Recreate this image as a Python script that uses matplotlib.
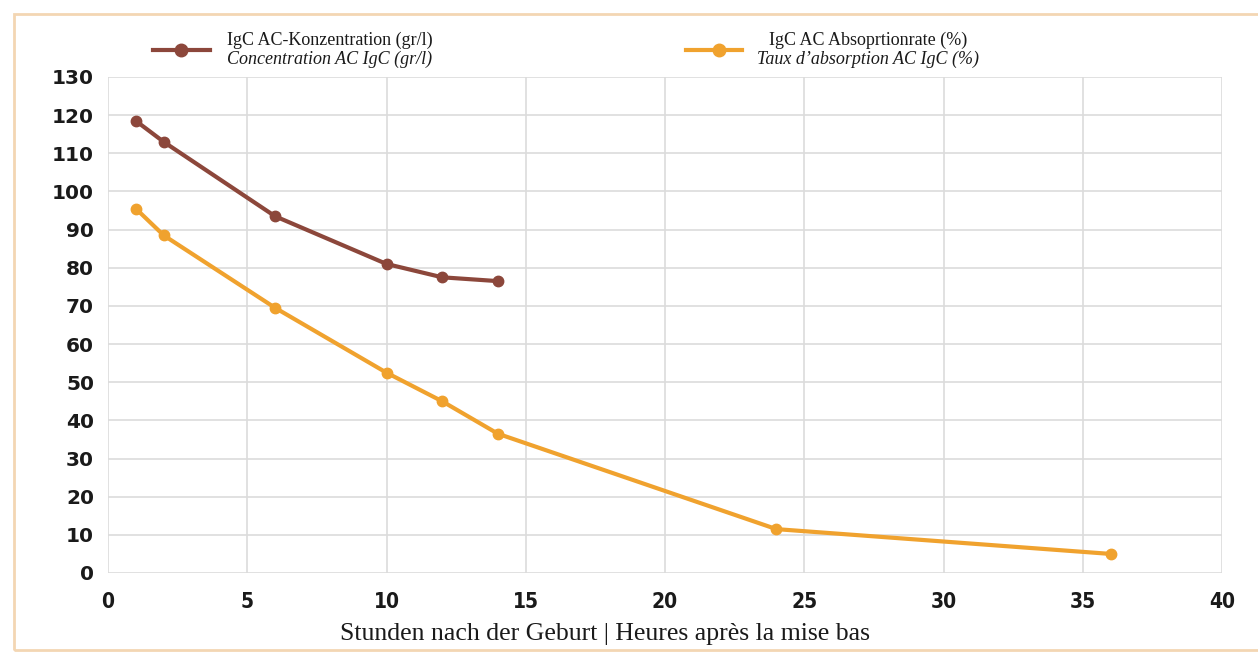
import matplotlib.pyplot as plt
from matplotlib.lines import Line2D
from matplotlib.patches import Rectangle

# hours after birth
hours_conc = [1, 2, 6, 10, 12, 14]
conc = [118.5, 113, 93.5, 81, 77.5, 76.5]

hours_abs = [1, 2, 6, 10, 12, 14, 24, 36]
absorption = [95.5, 88.5, 69.5, 52.5, 45, 36.5, 11.5, 5]

x_ticks = [0, 5, 10, 15, 20, 25, 30, 35, 40]
y_ticks = list(range(0, 140, 10))

BROWN = "#8c473b"
ORANGE = "#f0a22e"
GRID = "#dcdcdc"

fig = plt.figure(figsize=(12.58, 6.57), dpi=100)
ax = fig.add_axes([108 / 1258, 84 / 657, 1114 / 1258, 496 / 657])

ax.plot(hours_conc, conc, color=BROWN, lw=3, marker="o", markersize=7.5, zorder=3)
ax.plot(hours_abs, absorption, color=ORANGE, lw=3, marker="o", markersize=7.5, zorder=3)

ax.set_xlim(0, 40)
ax.set_ylim(0, 130)
ax.set_xticks(x_ticks)
ax.set_yticks(y_ticks)
ax.grid(True, color=GRID, lw=1.2)
ax.set_axisbelow(True)
for s in ax.spines.values():
    s.set_visible(False)
ax.tick_params(length=0)
ax.tick_params(axis="y", pad=10)
ax.tick_params(axis="x", pad=14)
for lab in ax.get_yticklabels():
    lab.set_fontweight("heavy")
    lab.set_fontsize(14.5)
    lab.set_color("#1a1a1a")
for lab in ax.get_xticklabels():
    lab.set_fontstretch("condensed")
    lab.set_fontweight("bold")
    lab.set_fontsize(15)
    lab.set_color("#1a1a1a")

fig.text(605 / 1258, 1 - 634 / 657, "Stunden nach der Geburt | Heures après la mise bas",
         ha="center", va="center", family="Liberation Serif", fontsize=18.5, color="#1a1a1a")

# legend drawn by hand (two-line labels, second line italic)
for x0, x1, xm, col, l1, l2, xc in [
    (153, 210, 181, BROWN, "IgC AC-Konzentration (gr/l)", "Concentration AC IgC (gr/l)", 330),
    (686, 742, 719, ORANGE, "IgC AC Absoprtionrate (%)", "Taux d\u2019absorption AC IgC (%)", 868),
]:
    fig.add_artist(Line2D([x0 / 1258, x1 / 1258], [1 - 50 / 657] * 2, color=col, lw=3,
                          transform=fig.transFigure))
    fig.add_artist(Line2D([xm / 1258], [1 - 50 / 657], color=col, marker="o", markersize=9,
                          transform=fig.transFigure))
    fig.text(xc / 1258, 1 - 40 / 657, l1, ha="center", va="center",
             family="Liberation Serif", fontsize=13, color="#1a1a1a")
    fig.text(xc / 1258, 1 - 59 / 657, l2, ha="center", va="center", style="italic",
             family="Liberation Serif", fontsize=13, color="#1a1a1a")

# light tan frame round the picture
fig.add_artist(Rectangle((14 / 1258, 7 / 657), 1.1, 1 - 21 / 657, fill=False,
                         edgecolor="#f3d6b3", lw=2, transform=fig.transFigure))

fig.savefig("out.png", dpi=100)
